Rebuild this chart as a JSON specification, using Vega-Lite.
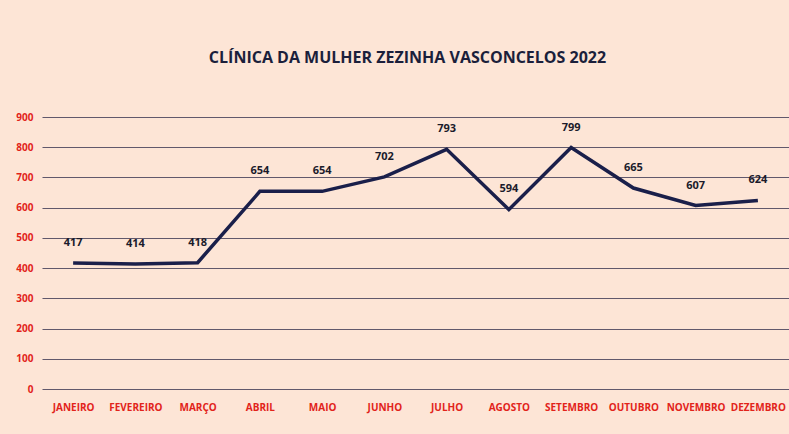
{
  "$schema": "https://vega.github.io/schema/vega-lite/v6.json",
  "autosize": {"type": "none"},
  "width": 747,
  "height": 272,
  "padding": {"left": 42, "top": 117, "right": 0, "bottom": 45},
  "background": "#FDE5D6",
  "title": {
    "text": "CLÍNICA DA MULHER ZEZINHA VASCONCELOS 2022",
    "font": "Open Sans",
    "fontSize": 16,
    "fontWeight": "bold",
    "color": "#1B1F3B",
    "anchor": "middle",
    "frame": "group",
    "offset": 46,
    "dx": -8
  },
  "data": {
    "values": [
      {"mes": "JANEIRO", "valor": 417},
      {"mes": "FEVEREIRO", "valor": 414},
      {"mes": "MARÇO", "valor": 418},
      {"mes": "ABRIL", "valor": 654},
      {"mes": "MAIO", "valor": 654},
      {"mes": "JUNHO", "valor": 702},
      {"mes": "JULHO", "valor": 793},
      {"mes": "AGOSTO", "valor": 594},
      {"mes": "SETEMBRO", "valor": 799},
      {"mes": "OUTUBRO", "valor": 665},
      {"mes": "NOVEMBRO", "valor": 607},
      {"mes": "DEZEMBRO", "valor": 624}
    ]
  },
  "encoding": {
    "x": {
      "field": "mes",
      "type": "nominal",
      "sort": null,
      "scale": {"paddingInner": 0, "paddingOuter": 0.5},
      "axis": {
        "title": null,
        "labelAngle": 0,
        "labelColor": "#E2231A",
        "labelFont": "Open Sans",
        "labelFontSize": 10,
        "labelFontWeight": "bold",
        "labelPadding": 13,
        "ticks": false,
        "domain": false,
        "grid": false
      }
    },
    "y": {
      "field": "valor",
      "type": "quantitative",
      "scale": {"domain": [0, 900], "nice": false},
      "axis": {
        "title": null,
        "values": [0, 100, 200, 300, 400, 500, 600, 700, 800, 900],
        "labelColor": "#E2231A",
        "labelFont": "Open Sans",
        "labelFontSize": 10,
        "labelFontWeight": "bold",
        "labelPadding": 9,
        "ticks": false,
        "domain": false,
        "grid": true,
        "gridColor": "#3A3550",
        "gridOpacity": 0.8,
        "gridWidth": 1
      }
    }
  },
  "layer": [
    {
      "mark": {"type": "line", "color": "#1A1F4A", "strokeWidth": 3.5, "strokeJoin": "miter"}
    },
    {
      "mark": {"type": "text", "dy": -20, "font": "Open Sans", "fontSize": 11, "fontWeight": "bold", "color": "#1B1B2B"},
      "encoding": {"text": {"field": "valor", "type": "quantitative"}}
    }
  ],
  "config": {"view": {"stroke": null}}
}
